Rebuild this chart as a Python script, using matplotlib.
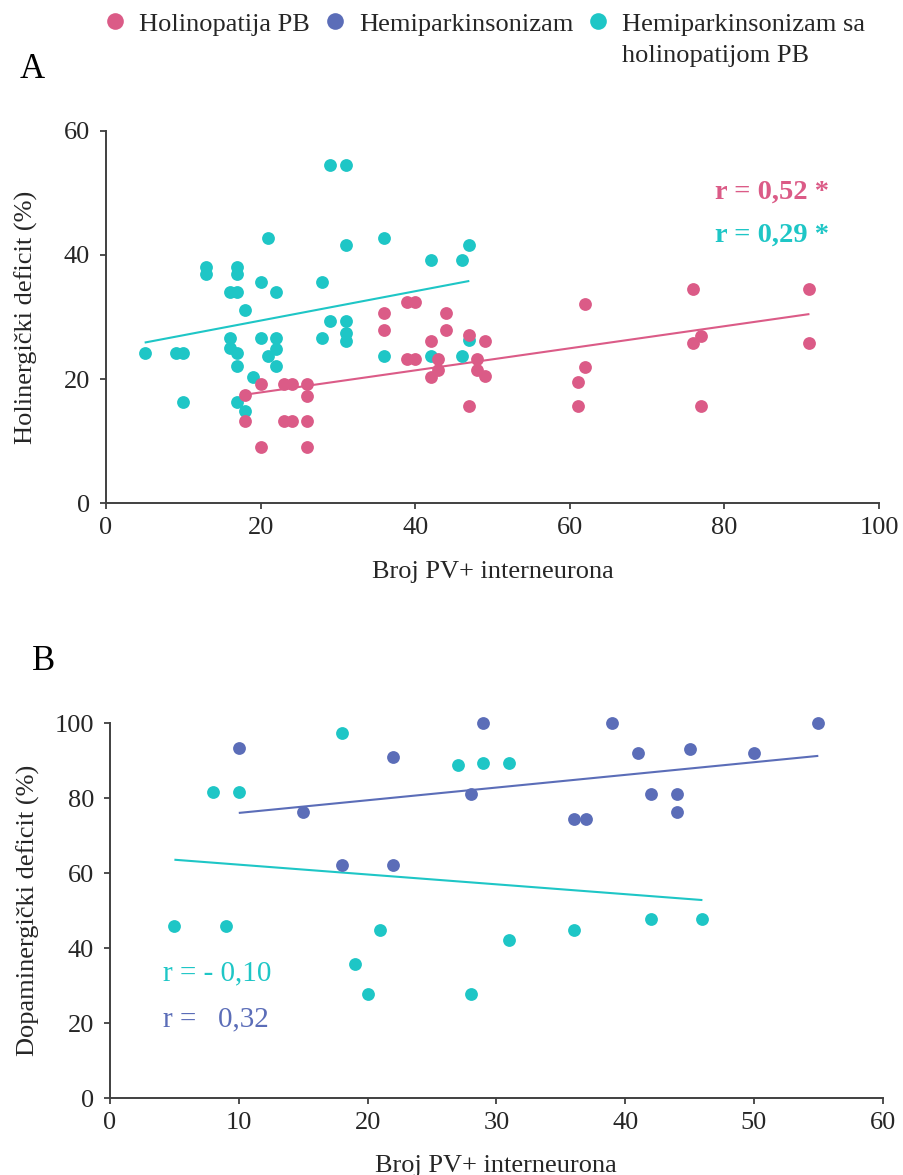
import numpy as np
import matplotlib
matplotlib.use("Agg")
import matplotlib.pyplot as plt
from matplotlib.lines import Line2D

plt.rcParams['font.family'] = ['Liberation Serif', 'DejaVu Serif']

# ---------------------------------------------------------------- data
legend_labels = ["Holinopatija PB", "Hemiparkinsonizam",
                 "Hemiparkinsonizam sa", "holinopatijom PB"]
x_label = "Broj PV+ interneurona"
y_label_a = "Holinergički deficit (%)"
y_label_b = "Dopaminergički deficit (%)"

# Panel A: cholinergic deficit vs. number of PV+ interneurons
a_hol_x = [18, 18, 20, 20, 23, 24, 23, 24, 26, 26, 26, 26,
           36, 36, 39, 40, 39, 40, 42, 43, 43, 42, 44, 44,
           47, 47, 48, 48, 49, 49, 62, 62, 61, 61, 76, 77, 76, 77, 91, 91]
a_hol_y = [17.4, 13.2, 19.3, 9.1, 19.3, 19.3, 13.2, 13.2, 19.3, 17.3, 13.2, 9.1,
           30.7, 27.9, 32.4, 32.4, 23.3, 23.3, 26.1, 23.3, 21.5, 20.4, 30.7, 27.9,
           27.1, 15.7, 23.3, 21.5, 26.1, 20.5, 32.1, 22.0, 19.5, 15.7,
           34.6, 27.0, 25.8, 15.7, 34.6, 25.8]

a_hemhol_x = [5, 9, 10, 10, 13, 13, 17, 17, 16, 17, 20, 22, 21, 18,
              16, 16, 17, 17, 20, 22, 22, 21, 22, 19, 17, 18,
              29, 31, 31, 28, 29, 31, 31, 31, 28, 36, 36, 42, 46, 47, 42, 46, 47]
a_hemhol_y = [24.3, 24.3, 24.3, 16.3, 38.1, 37.0, 38.1, 37.0, 34.1, 34.1, 35.6, 34.1,
              42.8, 31.1, 26.6, 25.0, 24.3, 22.2, 26.6, 26.6, 24.8, 23.7, 22.2, 20.4,
              16.3, 14.9, 54.4, 54.4, 41.6, 35.6, 29.3, 29.3, 27.5, 26.1, 26.7,
              42.8, 23.7, 39.2, 39.2, 41.6, 23.7, 23.7, 26.3]

# Panel B: dopaminergic deficit vs. number of PV+ interneurons
b_hem_x = [10, 15, 22, 18, 22, 28, 29, 39, 55, 41, 45, 50, 42, 44, 44, 36, 37]
b_hem_y = [93.3, 76.4, 90.9, 62.2, 62.2, 81.1, 100, 100, 100, 92.2, 93.2, 92.2,
           81.1, 81.1, 76.4, 74.5, 74.5]

b_hemhol_x = [5, 9, 8, 10, 18, 27, 29, 31, 21, 19, 20, 28, 31, 36, 42, 46]
b_hemhol_y = [45.9, 45.9, 81.6, 81.6, 97.3, 88.9, 89.5, 89.5, 44.9, 35.7,
              27.8, 27.8, 42.3, 44.9, 47.8, 47.8]

r_text_a = ["r = 0,52 *", "r = 0,29 *"]
r_text_b = ["r = - 0,10", "r =   0,32"]

# ---------------------------------------------------------------- style
PINK = '#DB5B87'
BLUE = '#5B6DB8'
CYAN = '#1EC6C6'
TEXT = '#262626'
AXC = '#404040'
FS = 19

W, H = 904, 1175
fig = plt.figure(figsize=(W / 100, H / 100), dpi=100)
fig.patch.set_facecolor('white')

axA = fig.add_axes([106 / W, 1 - 503.5 / H, 773 / W, 372.8 / H])
axB = fig.add_axes([110 / W, 1 - 1098.3 / H, 772.7 / W, 375 / H])


def style(ax, xmax, xstep, ymax, ystep):
    ax.set_xlim(0, xmax)
    ax.set_ylim(0, ymax)
    ax.set_xticks(np.arange(0, xmax + 1, xstep))
    ax.set_yticks(np.arange(0, ymax + 1, ystep))
    for s in ('top', 'right'):
        ax.spines[s].set_visible(False)
    for s in ('left', 'bottom'):
        ax.spines[s].set_color(AXC)
        ax.spines[s].set_linewidth(1.4)
    ax.tick_params(direction='out', length=4.5, width=1.3, color=AXC,
                   labelsize=FS, labelcolor=TEXT)
    ax.tick_params(axis='y', pad=7)
    ax.tick_params(axis='x', pad=5.5)


def scatter_fit(ax, x, y, color):
    x = np.asarray(x, float)
    y = np.asarray(y, float)
    k, b = np.polyfit(x, y, 1)
    xs = np.array([x.min(), x.max()])
    ax.plot(xs, k * xs + b, color=color, lw=1.5, zorder=2, solid_capstyle='butt')
    ax.scatter(x, y, s=85, color=color, linewidths=0, zorder=3, clip_on=False)


# Panel A
style(axA, 100, 20, 60, 20)
scatter_fit(axA, a_hemhol_x, a_hemhol_y, CYAN)
scatter_fit(axA, a_hol_x, a_hol_y, PINK)
axA.set_xlabel(x_label, fontsize=FS, color=TEXT)
axA.set_ylabel(y_label_a, fontsize=FS, color=TEXT)
axA.xaxis.set_label_coords(0.5, -0.153)
axA.yaxis.set_label_coords(-0.088, 0.5)
axA.text(0.788, 0.8356, r_text_a[0], transform=axA.transAxes, color=PINK,
         fontsize=20.5, fontweight='bold', ha='left', va='center')
axA.text(0.788, 0.720, r_text_a[1], transform=axA.transAxes, color=CYAN,
         fontsize=20.5, fontweight='bold', ha='left', va='center')

# Panel B
style(axB, 60, 10, 100, 20)
scatter_fit(axB, b_hemhol_x, b_hemhol_y, CYAN)
scatter_fit(axB, b_hem_x, b_hem_y, BLUE)
axB.set_xlabel(x_label, fontsize=FS, color=TEXT)
axB.set_ylabel(y_label_b, fontsize=FS, color=TEXT)
axB.xaxis.set_label_coords(0.5, -0.152)
axB.yaxis.set_label_coords(-0.0906, 0.5)
axB.text(0.0686, 0.334, r_text_b[0], transform=axB.transAxes, color=CYAN,
         fontsize=21, ha='left', va='center')
axB.text(0.0686, 0.2115, r_text_b[1], transform=axB.transAxes, color=BLUE,
         fontsize=21, ha='left', va='center')

# Panel letters
fig.text(20 / W, 1 - 70 / H, 'A', fontsize=25, color='black', ha='left', va='center')
fig.text(32 / W, 1 - 662 / H, 'B', fontsize=25, color='black', ha='left', va='center')

# Legend across the top
handles = [Line2D([], [], ls='none', marker='o', ms=12, mfc=c, mec='none')
           for c in (PINK, BLUE, CYAN)]
leg = fig.legend(handles, legend_labels[:3], loc='center left',
                 bbox_to_anchor=(106.5 / W, 1 - 24 / H), ncol=3, frameon=False,
                 fontsize=FS, handlelength=0.65, handletextpad=0.6,
                 columnspacing=0.6, borderpad=0, borderaxespad=0)
for t in leg.get_texts():
    t.set_color(TEXT)

fig.canvas.draw()
bb = leg.get_texts()[2].get_window_extent()
fig.text(bb.x0 / W, ((bb.y0 + bb.y1) / 2 - 31) / H, legend_labels[3],
         fontsize=FS, color=TEXT, ha='left', va='center')

fig.savefig('out.png', dpi=100, facecolor='white')
